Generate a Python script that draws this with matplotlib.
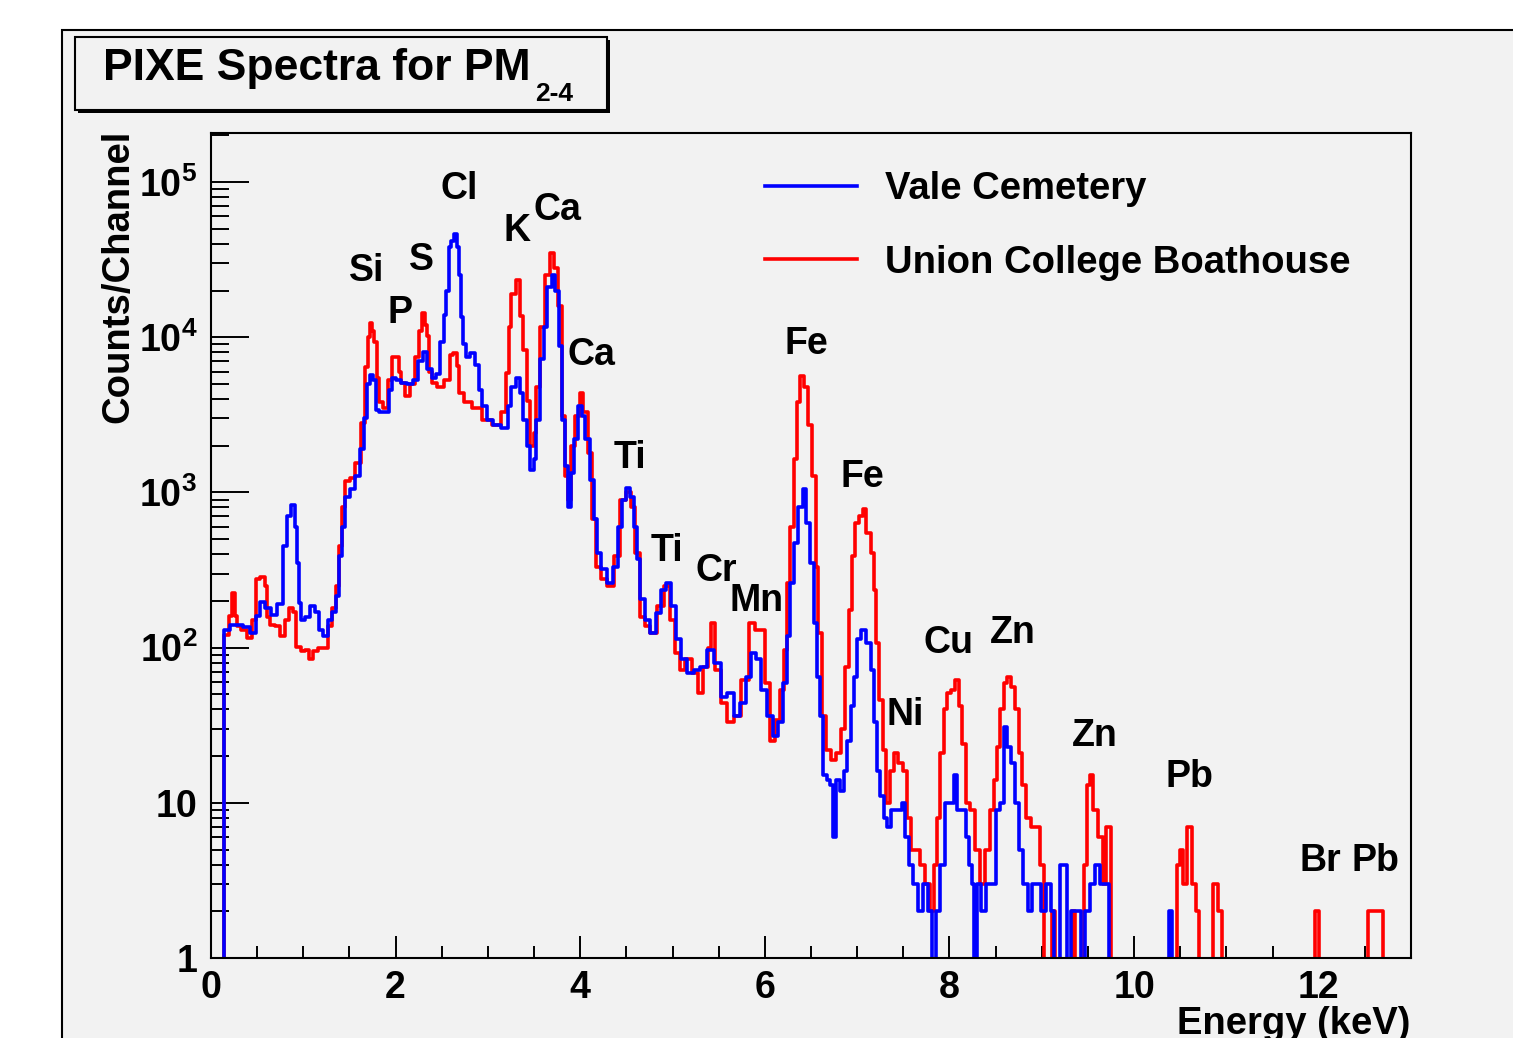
import numpy as np
import matplotlib
matplotlib.use("Agg")
import matplotlib.pyplot as plt
from matplotlib.patches import Rectangle
from matplotlib.ticker import LogLocator, NullFormatter, MultipleLocator

plt.rcParams['font.family'] = ['Liberation Sans', 'DejaVu Sans']
plt.rcParams['font.weight'] = 'bold'
plt.rcParams['mathtext.fontset'] = 'custom'
plt.rcParams['mathtext.rm'] = 'Liberation Sans:bold'
plt.rcParams['mathtext.it'] = 'Liberation Sans:bold'
plt.rcParams['mathtext.bf'] = 'Liberation Sans:bold'

# Vale Cemetery spectrum (energy keV, counts/channel)
vale_E = [0.00, 0.12, 0.17, 0.24, 0.31, 0.39, 0.46, 0.51, 0.56, 0.62, 0.67, 0.75, 0.80, 0.85,
          0.89, 0.92, 0.94, 0.96, 1.00, 1.04, 1.11, 1.15, 1.18, 1.24, 1.29, 1.33, 1.37, 1.40,
          1.43, 1.47, 1.54, 1.59, 1.64, 1.68, 1.71, 1.73, 1.77, 1.80, 1.85, 1.91, 1.94, 1.98,
          2.03, 2.08, 2.16, 2.21, 2.27, 2.32, 2.37, 2.42, 2.46, 2.50, 2.54, 2.56, 2.59, 2.62,
          2.64, 2.68, 2.70, 2.72, 2.75, 2.78, 2.83, 2.88, 2.92, 2.95, 3.02, 3.10, 3.19, 3.24,
          3.27, 3.33, 3.37, 3.40, 3.44, 3.48, 3.51, 3.54, 3.59, 3.62, 3.67, 3.71, 3.75, 3.78,
          3.82, 3.86, 3.88, 3.91, 3.95, 4.00, 4.03, 4.08, 4.13, 4.16, 4.20, 4.25, 4.33, 4.38,
          4.43, 4.47, 4.52, 4.56, 4.60, 4.63, 4.67, 4.73, 4.79, 4.85, 4.90, 4.95, 5.01, 5.06,
          5.12, 5.19, 5.27, 5.33, 5.41, 5.49, 5.55, 5.63, 5.70, 5.77, 5.82, 5.88, 5.93, 5.98,
          6.06, 6.11, 6.17, 6.22, 6.25, 6.30, 6.33, 6.39, 6.43, 6.47, 6.51, 6.55, 6.58, 6.62,
          6.65, 6.69, 6.73, 6.75, 6.79, 6.84, 6.87, 6.91, 6.95, 6.98, 7.02, 7.07, 7.12, 7.17,
          7.20, 7.23, 7.27, 7.31, 7.34, 7.39, 7.47, 7.50, 7.54, 7.58, 7.63, 7.69, 7.74, 7.79,
          7.83, 7.87, 7.92, 7.98, 8.03, 8.07, 8.10, 8.15, 8.20, 8.23, 8.26, 8.28, 8.31, 8.37,
          8.42, 8.48, 8.52, 8.57, 8.61, 8.64, 8.69, 8.74, 8.77, 8.82, 8.88, 8.91, 8.96, 9.02,
          9.07, 9.12, 9.14, 9.26, 9.29, 9.34, 9.40, 9.44, 9.50, 9.55, 9.60, 9.66, 9.71, 9.75,
          10.36, 10.40, 10.43, 13.00]
vale_C = [0, 0, 130, 140, 140, 135, 125, 160, 198, 180, 163, 190, 450, 700,
          830, 600, 350, 195, 150, 158, 185, 170, 130, 118, 150, 170, 214, 390,
          600, 940, 1050, 1270, 1900, 3000, 5000, 5700, 5300, 3400, 3300, 3300, 4600, 5500,
          5300, 5100, 5000, 5300, 7000, 8000, 6200, 5500, 5800, 9300, 14000, 20000, 38000, 42000,
          46000, 38000, 25000, 13600, 9000, 7500, 7900, 6600, 4600, 3600, 2950, 2700, 2600, 3600,
          4800, 5500, 4400, 2950, 2000, 1400, 1630, 2950, 7200, 11700, 21000, 25000, 20000, 8800,
          2950, 1470, 810, 1340, 2200, 3600, 3100, 2200, 1210, 670, 410, 320, 260, 330,
          600, 900, 1070, 940, 600, 370, 205, 150, 125, 168, 235, 260, 185, 113,
          84, 69, 72, 75, 97, 80, 48, 51, 36, 44, 65, 92, 84, 53,
          36, 27, 33, 59, 118, 260, 475, 810, 1050, 640, 350, 145, 65, 36,
          15, 14, 13, 6, 14, 12, 16, 25, 42, 65, 113, 130, 107, 72,
          33, 16, 11, 8, 7, 9, 9, 10, 6, 4, 3, 2, 3, 2,
          0, 2, 4, 10, 10, 15, 9, 9, 6, 4, 3, 0, 3, 2,
          3, 3, 9, 10, 31, 23, 18, 10, 5, 3, 2, 3, 3, 2,
          3, 2, 0, 4, 0, 2, 2, 0, 2, 3, 4, 3, 3, 0,
          0, 2, 0, 0]

# Union College Boathouse spectrum
union_E = [0.00, 0.12, 0.17, 0.22, 0.24, 0.27, 0.29, 0.36, 0.42, 0.47, 0.50, 0.56, 0.60, 0.62,
           0.66, 0.72, 0.78, 0.82, 0.86, 0.91, 0.94, 1.00, 1.04, 1.08, 1.13, 1.18, 1.24, 1.29,
           1.33, 1.37, 1.40, 1.44, 1.47, 1.54, 1.59, 1.65, 1.69, 1.71, 1.73, 1.76, 1.78, 1.81,
           1.83, 1.89, 1.94, 1.99, 2.02, 2.05, 2.07, 2.14, 2.18, 2.23, 2.27, 2.30, 2.33, 2.35,
           2.38, 2.41, 2.48, 2.56, 2.61, 2.64, 2.68, 2.70, 2.78, 2.88, 2.99, 3.10, 3.19, 3.21,
           3.24, 3.27, 3.33, 3.37, 3.40, 3.44, 3.48, 3.51, 3.54, 3.59, 3.64, 3.70, 3.74, 3.78,
           3.82, 3.86, 3.88, 3.92, 3.97, 4.02, 4.05, 4.11, 4.14, 4.20, 4.25, 4.33, 4.40, 4.47,
           4.52, 4.57, 4.62, 4.67, 4.73, 4.79, 4.87, 4.94, 5.00, 5.05, 5.11, 5.17, 5.25, 5.30,
           5.36, 5.41, 5.43, 5.49, 5.55, 5.63, 5.70, 5.79, 5.86, 5.92, 5.97, 6.03, 6.08, 6.14,
           6.19, 6.22, 6.25, 6.30, 6.33, 6.36, 6.40, 6.45, 6.49, 6.53, 6.57, 6.59, 6.64, 6.69,
           6.74, 6.80, 6.85, 6.89, 6.93, 6.96, 7.00, 7.04, 7.08, 7.12, 7.17, 7.19, 7.22, 7.26,
           7.29, 7.33, 7.38, 7.41, 7.47, 7.52, 7.56, 7.60, 7.65, 7.71, 7.76, 7.82, 7.85, 7.88,
           7.92, 7.96, 7.99, 8.04, 8.08, 8.12, 8.15, 8.20, 8.25, 8.30, 8.36, 8.41, 8.47, 8.50,
           8.53, 8.57, 8.61, 8.64, 8.69, 8.73, 8.77, 8.80, 8.86, 8.91, 8.96, 9.01, 9.03, 9.10,
           9.13, 9.16, 9.31, 9.34, 9.37, 9.45, 9.47, 9.51, 9.54, 9.58, 9.64, 9.68, 9.72, 9.77,
           10.45, 10.48, 10.51, 10.54, 10.60, 10.65, 10.69, 10.72, 10.84, 10.88, 10.93, 10.98,
           11.93, 11.99, 12.02, 12.52, 12.55, 12.62, 12.68, 12.72, 13.00]
union_C = [0, 0, 120, 160, 225, 160, 137, 130, 116, 150, 275, 285, 250, 158,
           140, 137, 118, 150, 180, 170, 101, 95, 97, 85, 95, 100, 100, 137,
           180, 250, 450, 800, 1180, 1230, 1550, 2800, 6400, 10000, 12400, 11000, 9300, 5500,
           3800, 3500, 5300, 7500, 7500, 6000, 5100, 4200, 5000, 7500, 11000, 14400, 12000, 10200,
           6000, 5100, 4800, 5300, 7700, 7900, 6500, 4400, 3800, 3500, 2950, 2700, 3300, 5900,
           11700, 19000, 23500, 13700, 8300, 3900, 2000, 2400, 4800, 11700, 25000, 35000, 28000, 16000,
           3100, 1270, 900, 2000, 3100, 4400, 3300, 1800, 670, 330, 275, 250, 390, 900,
           1000, 810, 410, 158, 137, 125, 185, 250, 150, 92, 72, 84, 69, 51,
           75, 100, 145, 72, 44, 33, 36, 62, 145, 130, 130, 59, 25, 34,
           53, 97, 260, 600, 1630, 3800, 5600, 4800, 2700, 1270, 330, 125, 36, 22,
           19, 21, 30, 75, 175, 390, 640, 700, 780, 550, 410, 235, 107, 46,
           22, 10, 16, 21, 18, 16, 8, 5, 5, 4, 3, 2, 4, 8,
           21, 40, 51, 53, 62, 42, 24, 10, 9, 5, 3, 5, 9, 14,
           23, 40, 59, 65, 56, 40, 21, 13, 8, 7, 7, 4, 0, 0,
           2, 0, 0, 2, 0, 0, 4, 13, 15, 9, 6, 3, 7, 0,
           0, 4, 5, 3, 7, 3, 2, 0, 0, 3, 2, 0,
           0, 2, 0, 0, 2, 2, 2, 0, 0]

# peak labels: element, energy (keV), counts at label centre
peak_labels = [("Si", 1.69, 28200), ("P", 2.05, 15100), ("S", 2.28, 33100),
               ("Cl", 2.69, 95500), ("K", 3.32, 51300), ("Ca", 3.75, 69200),
               ("Ca", 4.12, 8130), ("Ti", 4.54, 1760), ("Ti", 4.94, 442),
               ("Cr", 5.47, 328), ("Mn", 5.91, 209), ("Fe", 6.45, 9550),
               ("Fe", 7.06, 1320), ("Ni", 7.52, 38.6), ("Cu", 7.99, 112),
               ("Zn", 8.69, 131), ("Zn", 9.58, 28.2), ("Pb", 10.60, 15.5),
               ("Br", 12.02, 4.47), ("Pb", 12.62, 4.47)]

W, H = 1513, 1038
fig = plt.figure(figsize=(W / 100, H / 100), dpi=100, facecolor='white')
bg = '#f2f2f2'

# ROOT canvas
fig.add_artist(Rectangle((62 / W, -0.1), 1.2, 1 - 30 / H + 0.1, transform=fig.transFigure,
                         facecolor=bg, edgecolor='black', lw=1.5, zorder=-5))

# title box with shadow
fig.add_artist(Rectangle((78 / W, 1 - 113 / H), 532 / W, 73 / H, transform=fig.transFigure,
                         facecolor='black', edgecolor='black', lw=0, zorder=-4))
fig.add_artist(Rectangle((75 / W, 1 - 110 / H), 532 / W, 73 / H, transform=fig.transFigure,
                         facecolor=bg, edgecolor='black', lw=1.5, zorder=-3))
fig.text(103 / W, 1 - 80 / H, "PIXE Spectra for PM", fontsize=32, fontweight='bold',
         va='baseline', ha='left')
fig.text(535 / W, 1 - 101 / H, "2-4", fontsize=19, fontweight='bold', va='baseline', ha='left')

ax = fig.add_axes([211 / W, 1 - 958 / H, 1200 / W, 825 / H])
ax.set_facecolor(bg)

def for_log(c):
    c = np.asarray(c, float)
    return np.where(c > 0, c, 0.05)

ln_u, = ax.plot(union_E, for_log(union_C), drawstyle='steps-mid', color='#ff0000', lw=2.6,
                label='Union College Boathouse')
ln_v, = ax.plot(vale_E, for_log(vale_C), drawstyle='steps-mid', color='#0000ff', lw=2.6,
                label='Vale Cemetery')

ax.set_yscale('log')
ax.set_xlim(0, 13)
ax.set_ylim(1, 10 ** 5.316)

ax.set_xticks([0, 2, 4, 6, 8, 10, 12])
ax.set_xticklabels(['0', '2', '4', '6', '8', '10', '12'])
ax.xaxis.set_minor_locator(MultipleLocator(0.5))
ax.set_yticks([1, 10, 100, 1e3, 1e4, 1e5])
ax.set_yticklabels(['1', '10', r'$10^{2}$', r'$10^{3}$', r'$10^{4}$', r'$10^{5}$'])
ax.yaxis.set_minor_locator(LogLocator(base=10, subs=np.arange(2, 10), numticks=20))
ax.yaxis.set_minor_formatter(NullFormatter())

ax.tick_params(axis='both', which='both', direction='in', width=1.4, top=False, right=False,
               labelsize=27)
ax.tick_params(axis='y', which='major', length=27, pad=10)
ax.tick_params(axis='y', which='minor', length=13)
ax.tick_params(axis='x', which='major', length=16, pad=9)
ax.tick_params(axis='x', which='minor', length=8.5)
for lab in ax.get_xticklabels() + ax.get_yticklabels():
    lab.set_fontweight('bold')
for sp in ax.spines.values():
    sp.set_linewidth(1.5)

for name, e, c in peak_labels:
    ax.annotate(name, (e, c), xytext=(0, -9.7), textcoords='offset points',
                ha='center', va='baseline', fontsize=27, fontweight='bold')

leg = ax.legend(handles=[ln_v, ln_u], loc='upper left',
                bbox_to_anchor=(765 / W, 1 - 171 / H), bbox_transform=fig.transFigure,
                frameon=False, fontsize=27.5, handlelength=2.4, handletextpad=0.75,
                labelspacing=0.99, borderpad=0, borderaxespad=0)
for t in leg.get_texts():
    t.set_fontweight('bold')

fig.text(118 / W, 1 - 130 / H, "Counts/Channel", rotation=90, fontsize=27.5,
         fontweight='bold', ha='center', va='top')
fig.text(1410 / W, 1 - 1006 / H, "Energy (keV)", fontsize=27.5, fontweight='bold',
         ha='right', va='top')

fig.savefig("out.png", dpi=100, facecolor=fig.get_facecolor())
